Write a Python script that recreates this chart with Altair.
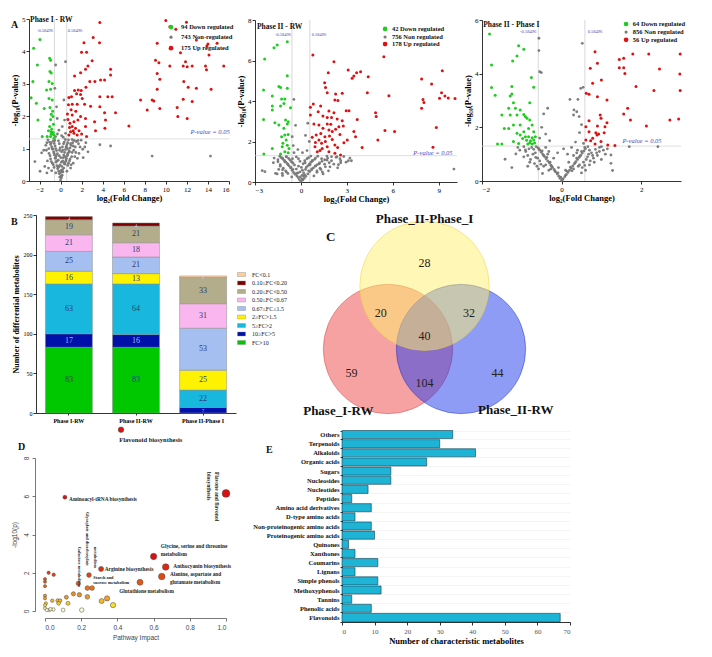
import altair as alt
import pandas as pd

W, H = 696, 641
SERIF = "Liberation Serif"
SANS = "Liberation Sans"

# ---------------- Panel A data (log2 FC, -log10 P) ----------------
A_cutoff = 0.58496
A_pcut = 1.30103

A1_counts = [94, 743, 175]
A1_green = [(-1.96,4.37),(-2.56,4.10),(-2.63,3.07),(-2.80,2.57),(-1.04,3.79),(-0.95,3.73),(-1.01,3.38),(-0.89,3.33),
            (-1.10,3.07),(-0.79,3.01),(-0.95,2.83),(-1.10,2.55),(-0.79,2.50),(-1.01,2.27),(-0.89,2.06),(-0.73,1.99),
            (-0.95,1.90),(-1.04,1.68),(-0.89,1.52),(-0.79,1.45),(-0.70,1.50),(-0.63,1.42),(-0.95,1.37),(-1.74,1.37),
            (-1.27,1.37),(-0.62,1.32),(-2.15,1.88),(-2.30,2.40),(-1.55,2.24),(-1.33,2.81),(-2.20,3.58),(-0.85,1.60),
            (-0.68,1.75),(-0.75,2.15),(-0.90,1.45),(-1.15,1.55)]
A1_red = [(3.73,4.89),(3.10,4.43),(2.22,4.27),(3.70,4.27),(1.99,3.97),(2.47,3.97),(3.00,3.71),(2.60,3.55),(2.37,3.45),
          (1.90,3.34),(1.33,3.24),(4.75,3.45),(4.75,3.27),(4.18,3.12),(3.80,3.12),(3.26,3.07),(2.78,3.07),(2.41,2.89),
          (1.68,2.81),(1.33,2.79),(1.96,2.79),(1.52,2.69),(1.90,2.67),(3.73,2.60),(4.49,2.60),(4.90,2.60),(1.04,2.60),
          (0.79,2.58),(2.06,2.55),(1.58,2.37),(1.11,2.37),(2.28,2.37),(2.85,2.31),(3.73,2.29),(5.22,2.11),(4.18,2.11),
          (0.65,2.07),(1.11,2.04),(1.90,1.99),(2.37,1.93),(1.27,1.83),(1.65,1.88),(0.89,1.78),(1.11,1.68),(1.42,1.63),
          (0.95,1.52),(1.27,1.47),(0.79,1.42),(1.58,1.42),(2.37,1.68),(2.47,1.37),(3.23,1.83),(3.32,1.55),(4.21,1.63),
          (4.27,1.88),(6.49,1.70),(7.60,2.50),(8.23,2.19),(8.70,2.50),(8.86,2.47),(9.43,2.24),(11.08,2.27),(11.14,1.99),
          (12.03,1.93),(11.65,2.52),(12.50,2.45),(9.18,2.83),(9.43,3.14),(9.18,3.32),(9.02,3.73),(9.34,3.65),(9.18,4.25),
          (10.00,4.95),(10.38,3.55),(10.38,4.76),(10.95,4.68),(11.39,3.96),(11.87,3.68),(12.03,3.53),(11.65,3.55),
          (12.50,3.55),(11.71,3.07),(12.12,2.89),(12.90,2.86),(11.96,4.90),(12.90,4.35),(14.00,4.23),(14.10,3.89),
          (14.87,4.25),(15.50,3.55),(13.77,3.55),(13.86,3.43),(14.30,2.83),(13.90,4.17),(0.70,1.90),(1.00,2.20),
          (1.20,1.55),(0.85,1.65),(1.75,1.55),(2.00,1.45),(0.75,2.35),(1.45,2.15)]
A1_gray = [(0.00,0.03),(0.08,0.10),(-0.08,0.12),(0.15,0.18),(-0.12,0.22),(0.22,0.28),(-0.18,0.30),(0.05,0.33),(-0.28,0.38),
           (0.30,0.40),(0.12,0.45),(-0.35,0.47),(0.40,0.52),(-0.05,0.50),(-0.42,0.58),(0.48,0.60),(0.20,0.62),(-0.22,0.64),
           (0.55,0.70),(-0.50,0.70),(0.02,0.72),(0.62,0.78),(-0.58,0.80),(0.30,0.80),(-0.30,0.84),(0.70,0.86),(-0.66,0.90),
           (0.10,0.90),(0.80,0.94),(-0.75,0.98),(0.45,0.97),(-0.45,1.00),(0.90,1.02),(-0.85,1.06),(0.18,1.05),(1.00,1.10),
           (-0.95,1.13),(0.60,1.12),(-0.60,1.16),(1.15,1.18),(-1.05,1.20),(0.35,1.20),(-0.20,1.24),(1.30,1.25),(-1.20,1.27),
           (0.75,1.27),(1.50,1.22),(1.70,1.15),(1.95,1.26),(-1.40,1.10),(1.25,0.95),(-1.10,0.85),(1.05,0.75),(-0.95,0.68),
           (0.85,0.62),(-0.78,0.55),(0.68,0.48),(-0.62,0.42),(1.45,0.88),(-1.25,0.62),(1.60,0.70),(2.10,0.98),(2.40,1.18),
           (-1.60,0.95),(0.95,0.40),(-0.85,0.32),(1.20,0.55),(-1.50,0.45),(2.60,0.90),(2.15,0.72),(-2.44,0.60),(-1.80,0.87),
           (-1.95,0.30),(-1.30,0.25),(3.73,1.12),(4.75,1.08),(8.70,0.77),(14.24,0.77),(-0.47,3.58),(0.47,3.68),(-0.54,2.86),
           (-0.38,2.29),(-0.32,1.93),(0.32,2.50),(0.38,1.88),(-0.16,1.57),(0.16,1.68),(-0.47,1.37),(0.47,1.47),(0.25,1.35),
           (-0.30,1.45),(0.10,1.40),(0.55,1.05),(-0.55,1.25),(0.40,0.75),(-0.40,0.78),(0.65,1.00),(1.10,1.28),(-0.10,0.95),
           (0.05,0.15),(-0.03,0.25),(0.18,0.35),(-0.22,0.42),(0.35,0.55),(-0.38,0.62),(0.08,0.58),(0.52,0.65),(-0.48,0.72),
           (0.25,0.72),(-0.12,0.78),(0.68,0.80),(-0.62,0.86),(0.38,0.88),(-0.38,0.94),(0.85,0.90),(-0.78,1.00),(0.20,0.95),
           (-0.05,1.02),(0.52,1.05),(-0.52,1.08),(0.95,1.15),(-0.88,1.18),(0.28,1.15),(-0.12,1.15),(1.20,1.08),(-1.12,1.00),
           (0.68,1.18),(-0.70,1.24),(1.40,1.05),(-1.30,1.18),(0.45,1.28),(1.65,1.25),(1.85,1.05),(-1.35,0.95),(1.10,0.88),
           (-1.00,0.78),(0.90,0.68),(-0.88,0.60),(0.75,0.55),(-0.70,0.50),(1.35,0.75),(1.75,0.85),(2.30,1.05),(-1.15,0.40),
           (0.60,0.30),(-0.45,0.25),(1.00,0.50),(0.12,0.30),(-0.15,0.45)]

A2_counts = [42, 756, 178]
A2_green = [(-0.89,6.93),(-1.55,6.77),(-1.76,6.63),(-2.37,6.07),(-0.89,5.25),(-2.44,4.54),(-1.44,4.71),(-1.33,4.67),
            (-0.89,4.63),(-1.87,4.25),(-1.26,4.10),(-1.05,4.10),(-1.87,3.75),(-1.33,3.75),(-1.11,3.88),(-0.68,3.67),
            (-1.87,3.56),(-2.44,3.09),(-1.70,2.93),(-1.44,2.81),(-1.00,3.06),(-0.83,2.98),(-0.89,2.86),(-1.11,2.65),
            (-0.83,2.35),(-1.05,2.32),(-1.26,2.24),(-0.96,2.07),(-1.18,1.91),(-0.89,1.81),(-0.78,1.66),(-1.22,1.74),
            (-1.05,1.50),(-0.83,1.45),(-1.87,1.66),(-2.42,1.38),(-1.33,1.38)]
A2_red = [(0.78,6.27),(2.16,5.94),(1.79,5.40),(3.09,5.53),(3.46,5.23),(3.64,5.40),(3.90,5.45),(4.40,5.20),(3.35,5.12),
          (1.55,4.90),(1.61,4.67),(1.72,4.41),(2.27,4.35),(2.70,4.38),(2.22,4.05),(2.42,4.02),(0.81,3.85),(1.29,3.75),
          (0.62,3.69),(1.13,3.47),(1.83,3.51),(2.16,3.42),(2.96,3.52),(3.14,3.52),(4.34,4.41),(5.42,6.19),(5.75,4.26),
          (4.88,3.42),(4.92,3.23),(3.68,3.09),(0.62,3.31),(1.44,3.26),(1.72,3.19),(2.00,3.19),(2.37,3.11),(2.70,3.03),
          (2.48,2.73),(2.77,2.77),(0.85,2.86),(1.18,2.81),(1.44,2.65),(1.72,2.86),(1.83,2.57),(2.05,2.49),(2.27,2.60),
          (1.87,2.27),(1.57,2.24),(1.00,2.32),(0.74,2.21),(1.18,2.07),(1.35,1.91),(0.92,1.74),(1.39,1.66),(1.72,1.74),
          (2.22,1.83),(1.07,1.50),(1.83,1.50),(2.22,1.42),(2.59,1.33),(2.81,1.94),(3.03,2.07),(3.46,2.49),(3.57,2.24),
          (4.00,1.70),(5.03,2.07),(5.49,2.54),(6.12,2.49),(7.89,5.09),(7.98,4.08),(8.04,3.92),(7.89,3.64),(8.54,4.84),
          (9.24,5.50),(9.06,4.13),(9.19,4.41),(9.41,4.25),(9.63,4.15),(10.07,4.12),(8.85,2.69),(8.63,1.71),(1.30,2.40),
          (1.60,2.00),(2.05,2.10),(0.95,1.95),(1.25,1.55),(2.40,1.70),(1.95,2.85),(2.55,2.35)]
A2_gray = [(0.00,0.03),(0.12,0.10),(-0.10,0.12),(0.22,0.18),(-0.18,0.22),(0.32,0.28),(-0.26,0.30),(0.08,0.33),(-0.38,0.38),
           (0.45,0.40),(0.18,0.45),(-0.48,0.47),(0.58,0.52),(-0.06,0.50),(-0.58,0.58),(0.70,0.60),(0.30,0.62),(-0.30,0.64),
           (0.82,0.70),(-0.68,0.70),(0.03,0.72),(0.95,0.78),(-0.78,0.80),(0.45,0.80),(-0.42,0.84),(1.08,0.86),(-0.88,0.90),
           (0.15,0.90),(1.22,0.94),(-0.98,0.98),(0.65,0.97),(-0.62,1.00),(1.38,1.02),(-1.08,1.06),(0.25,1.05),(1.55,1.10),
           (-1.18,1.13),(0.90,1.12),(-0.80,1.16),(1.75,1.18),(-1.28,1.20),(0.50,1.20),(-0.30,1.24),(2.00,1.25),(-1.38,1.27),
           (1.10,1.27),(2.30,1.22),(2.55,1.15),(2.80,1.26),(-1.50,1.10),(1.85,0.95),(-1.35,0.85),(1.60,0.75),(-1.15,0.68),
           (1.30,0.62),(-1.00,0.55),(1.05,0.48),(-0.85,0.42),(2.15,0.88),(-1.45,0.62),(2.40,0.70),(2.95,0.98),(3.20,1.18),
           (1.45,0.40),(-1.20,0.32),(1.80,0.55),(-2.53,0.56),(-2.35,0.51),(-1.66,0.43),(-1.22,0.43),(10.00,0.64),(3.30,1.05),
           (-0.46,4.08),(-0.57,2.24),(0.30,2.30),(-0.20,1.60),(0.40,1.55),(0.10,1.45),(-0.45,1.45),(0.55,2.00),(-0.35,2.80),
           (0.45,2.90),(-0.50,1.80),(0.75,1.05),(-0.55,1.15),(0.60,0.85),(1.70,1.28),(2.60,0.95),(-0.95,1.25),
           (0.07,0.15),(-0.04,0.25),(0.25,0.35),(-0.30,0.42),(0.50,0.55),(-0.52,0.62),(0.10,0.58),(0.72,0.65),(-0.65,0.72),
           (0.35,0.72),(-0.16,0.78),(0.95,0.80),(-0.85,0.86),(0.55,0.88),(-0.52,0.94),(1.20,0.90),(-1.05,1.00),(0.28,0.95),
           (-0.06,1.02),(0.75,1.05),(-0.70,1.08),(1.35,1.15),(-1.20,1.18),(0.40,1.15),(-0.16,1.15),(1.70,1.08),(-1.50,1.00),
           (0.95,1.18),(-0.95,1.24),(2.00,1.05),(-1.75,1.18),(0.65,1.28),(2.35,1.25),(2.60,1.05),(-1.80,0.95),(1.55,0.88),
           (-1.35,0.78),(1.25,0.68),(-1.20,0.60),(1.05,0.55),(-0.95,0.50),(1.90,0.75),(2.45,0.85),(3.10,1.05),(-1.55,0.40),
           (0.85,0.30),(-0.60,0.25),(1.40,0.50),(0.17,0.30),(-0.20,0.45)]

A3_counts = [64, 856, 56]
A3_green = [(-1.81,5.48),(-1.08,5.04),(-0.95,4.91),(-1.12,4.66),(-1.23,4.47),(-1.76,4.32),(-0.76,3.86),(-1.76,3.48),
            (-1.25,3.52),(-0.70,3.49),(-1.67,3.20),(-1.29,3.17),(-1.25,3.24),(-1.21,2.92),(-0.80,2.92),(-1.33,2.71),
            (-1.16,2.71),(-1.50,2.46),(-1.29,2.46),(-1.04,2.65),(-0.95,2.48),(-0.91,2.40),(-0.87,2.34),(-0.80,2.27),
            (-1.12,2.46),(-1.44,1.96),(-1.33,1.96),(-1.21,2.09),(-1.04,2.09),(-0.83,1.96),(-0.74,2.09),(-0.70,1.84),
            (-0.95,1.84),(-1.12,1.78),(-1.04,1.71),(-0.91,1.65),(-0.83,1.65),(-0.74,1.61),(-0.66,1.65),(-0.80,1.43),
            (-0.85,1.38),(-0.74,1.38),(-1.21,1.47),(-1.08,1.40),(-1.61,1.38),(-1.50,1.38),(-0.70,1.53),(-0.78,1.50),
            (-0.88,1.52),(-0.68,1.42),(-0.98,1.58)]
A3_red = [(0.84,4.82),(0.90,4.39),(0.72,4.20),(1.45,4.53),(1.56,4.57),(1.79,4.73),(2.19,4.73),(2.98,4.73),(2.46,4.17),
          (1.45,4.22),(1.56,4.22),(1.59,4.01),(1.00,3.76),(0.78,3.64),(1.87,3.52),(2.32,3.37),(2.97,3.99),(2.98,3.37),
          (0.62,3.27),(0.69,3.23),(0.90,3.14),(1.14,3.02),(1.66,2.71),(1.56,2.50),(0.97,2.46),(0.99,2.34),(0.69,2.25),
          (0.61,2.02),(1.09,2.02),(0.90,2.05),(1.14,2.17),(1.73,2.27),(2.13,2.05),(2.72,2.27),(2.94,2.31),(0.69,1.84),
          (0.86,1.80),(1.07,1.80),(0.78,1.59),(0.89,1.71),(0.93,1.75),(0.61,1.53),(0.73,1.50),(0.99,1.47),(1.16,1.34),
          (1.34,1.32),(0.84,1.38)]
A3_gray = [(0.00,0.02),(0.04,0.08),(-0.04,0.10),(0.08,0.16),(-0.07,0.18),(0.12,0.24),(-0.11,0.26),(0.16,0.32),(-0.15,0.34),
           (0.20,0.40),(-0.19,0.43),(0.24,0.48),(-0.23,0.51),(0.28,0.56),(-0.27,0.59),(0.32,0.64),(-0.31,0.67),(0.36,0.72),
           (-0.35,0.75),(0.40,0.80),(-0.39,0.83),(0.44,0.88),(-0.43,0.91),(0.48,0.96),(-0.47,0.99),(0.52,1.04),(-0.51,1.07),
           (0.56,1.12),(-0.55,1.15),(0.60,1.20),(-0.59,1.23),(0.66,1.28),(-0.64,1.28),(0.10,0.40),(-0.08,0.50),(0.18,0.70),
           (-0.20,0.85),(0.30,0.95),(-0.32,1.10),(0.40,1.15),(0.25,1.25),(-0.40,1.25),(0.05,1.20),(-0.10,1.05),(0.15,1.00),
           (0.30,0.45),(-0.32,0.40),(0.45,0.60),(-0.45,0.55),(0.55,0.70),(-0.55,0.75),(0.65,0.90),(-0.65,0.88),(0.75,1.05),
           (-0.72,1.00),(0.85,1.18),(-0.82,1.20),(0.95,1.25),(-0.90,1.10),(1.05,1.15),(0.70,0.60),(-0.68,0.65),(0.80,0.85),
           (-0.78,0.80),(0.60,0.40),(-0.58,0.45),(0.90,0.95),(-0.95,0.90),(1.10,1.00),(1.00,0.80),(-1.05,1.15),(0.50,0.30),
           (-0.48,0.28),(-1.42,0.81),(-1.15,1.01),(-0.91,1.16),(1.24,0.97),(1.24,0.66),(1.28,0.39),(2.42,1.28),(1.70,1.28),
           (-1.25,0.50),(-0.85,0.55),(-0.57,5.32),(-0.57,4.86),(-0.55,4.07),(-0.51,4.04),(-0.35,2.71),(0.52,5.13),(0.48,3.45),
           (0.54,3.49),(0.21,3.04),(0.41,3.04),(0.31,2.65),(0.38,2.58),(0.30,2.46),(0.44,2.40),(-0.45,2.50),(-0.50,2.00),
           (-0.40,1.75),(0.45,1.80),(0.50,2.10),(-0.30,1.50),(0.35,1.45),(-0.55,1.60),(0.55,1.40),
           (0.02,0.05),(-0.02,0.14),(0.10,0.22),(-0.09,0.30),(0.14,0.36),(-0.17,0.38),(0.22,0.52),(-0.25,0.55),(0.34,0.68),
           (-0.29,0.70),(0.38,0.85),(-0.37,0.88),(0.46,0.92),(-0.45,0.95),(0.50,1.10),(-0.49,1.12),(0.58,1.25),(-0.57,1.20),
           (0.70,1.15),(-0.70,1.18),(0.62,0.80),(-0.60,0.85),(0.78,0.95),(-0.75,1.25),(0.88,1.05),(-0.85,0.95),(0.52,0.50),
           (-0.52,0.62),(0.72,0.75),(-0.62,0.55),(0.95,1.10),(1.00,1.28),(-0.95,1.28),(0.68,1.00),(-0.66,1.05),(0.42,0.55),
           (-0.40,0.60),(0.26,0.38),(-0.27,0.45),(0.82,0.70),(-0.80,0.70),(1.15,1.20),(-1.10,1.25),(0.58,0.58),(0.38,1.05),
           (-0.35,1.00)]

# ---------------- Panel B data ----------------
B_phases = ["Phase I-RW", "Phase II-RW", "Phase II-Phase I"]
B_cats = ["FC<0.1", "0.10≤FC<0.20", "0.20≤FC<0.50", "0.50≤FC<0.67", "0.67≤FC≤1.5",
          "2≥FC>1.5", "5≥FC>2", "10≥FC>5", "FC>10"]
B_colors = ["#FFCC99", "#800000", "#B3AD8B", "#FAB6EE", "#A4BFF0", "#FFF200", "#18B8DE", "#0010A8", "#00C800"]
B_phase1 = [0, 4, 19, 21, 25, 16, 63, 17, 83]
B_phase2 = [0, 4, 21, 18, 21, 13, 64, 16, 83]
B_phase21 = [2, 0, 33, 31, 53, 25, 22, 7, 0]

# ---------------- Panel C data ----------------
C_sets = ["Phase_II-Phase_I", "Phase_I-RW", "Phase_II-RW"]
C_regions = ["II-I only", "I-RW & II-I", "II-RW & II-I", "all", "I-RW only", "I-RW & II-RW", "II-RW only"]
C_counts = [28, 20, 32, 40, 59, 104, 44]

# ---------------- Panel D data ----------------
D_impact = [0.42, 1.00, 0.11, 0.60, 0.667, 0.645, 0.525, 0.31, 0.243, 0.234, 0.26, 0.184, 0.02, 0.048, 0.0, 0.0,
            0.0, 0.0, 0.0, 0.005, 0.04, 0.07, 0.083, 0.118, 0.157, 0.19, 0.234, 0.313, 0.343, 0.376, 0.203, 0.10,
            0.075, 0.127, 0.046, 0.024, 0.0, 0.01, 0.0, 0.03]
D_logp = [9.48, 6.15, 5.95, 2.85, 2.30, 1.80, 1.50, 2.20, 1.88, 1.20, 1.20, 1.44, 2.00, 1.90, 1.67, 1.53,
          1.30, 0.80, 0.66, 0.40, 0.54, 0.54, 0.54, 0.72, 0.90, 0.85, 0.74, 0.52, 0.66, 0.31, 0.05, 0.05,
          0.40, 0.40, 0.08, 0.05, 0.14, 0.05, 0.30, 0.10]
D_labels = ["Flavonoid biosynthesis", "Aminoacyl-tRNA biosynthesis", "Glycine, serine and threonine", "metabolism",
            "Anthocyanin biosynthesis", "Alanine, aspartate and", "glutamate metabolism", "Glutathione metabolism",
            "Arginine biosynthesis", "Starch and", "sucrose metabolism"]
D_vlabels = ["Flavone and flavonol", "biosynthesis", "Galactose metabolism", "Glyoxylate and dicarboxylate", "metabolism"]

# ---------------- Panel E data ----------------
E_cats = ["Others", "Terpenoids", "Alkaloids", "Organic acids", "Sugars", "Nucleosides", "Nucleotides", "Peptides",
          "Amino acid derivatives", "D-type amino acids", "Non-proteinogenic amino acids", "Proteinogenic amino acids",
          "Quinones", "Xanthones", "Coumarins", "Lignans", "Simple phenols", "Methoxyphenols", "Tannins",
          "Phenolic acids", "Flavonoids"]
E_vals = [34, 30, 41, 26, 15, 15, 8, 3, 9, 4, 9, 10, 2, 4, 11, 4, 11, 12, 3, 9, 67]


# ================= helpers =================
def S(dom, r0, r1):
    return alt.Scale(domain=dom, range=[r0 - 8, r1 - 8], nice=False, zero=False)


def ax_bottom(y_img, **kw):
    base = dict(orient="bottom", offset=(y_img - 8) - H, grid=False, domainColor="#000", tickColor="#000",
                labelColor="#000", domainWidth=0.8, tickWidth=0.8, tickSize=3, labelPadding=1)
    base.update(kw)
    return alt.Axis(**base)


def ax_left(x_img, **kw):
    base = dict(orient="left", offset=-(x_img - 8), grid=False, domainColor="#000", tickColor="#000",
                labelColor="#000", domainWidth=0.8, tickWidth=0.8, tickSize=3, labelPadding=1)
    base.update(kw)
    return alt.Axis(**base)


def pts(pairs):
    return pd.DataFrame(pairs, columns=["x", "y"])


def tdf(rows):
    return pd.DataFrame(rows, columns=["t", "x", "y"])


def volcano(green, gray, red, counts, nonword, title, xdom, xr, ydom, yr, xticks, yticks, ann):
    X = alt.X("x:Q", scale=S(xdom, *xr),
              axis=ax_bottom(yr[0], values=xticks, title="log₂(Fold Change)", labelFont=SERIF, labelFontSize=7,
                             titleFont=SERIF, titleFontSize=8.5, titleFontWeight="bold", titlePadding=1))
    Y = alt.Y("y:Q", scale=S(ydom, *yr),
              axis=ax_left(xr[0], values=yticks, title="-log₁₀(P-value)", labelFont=SERIF, labelFontSize=7,
                           titleFont=SERIF, titleFontSize=8.5, titleFontWeight="bold", titlePadding=2))
    vl = pd.DataFrame({"x": [-A_cutoff, A_cutoff], "y": [ydom[0]] * 2, "y2": [ydom[1]] * 2})
    hl = pd.DataFrame({"x": [xdom[0]], "x2": [xdom[1]], "y": [A_pcut]})
    lx, ltx, lys = ann["legend"]
    layers = [
        alt.Chart(vl).mark_rule(color="#c8c8c8", strokeWidth=0.7).encode(x=X, y=Y, y2="y2:Q"),
        alt.Chart(hl).mark_rule(color="#d0d0d0", strokeWidth=0.7).encode(x=X, x2="x2:Q", y=Y),
        alt.Chart(pts(gray)).mark_circle(size=8, color="#777777", opacity=0.95).encode(x=X, y=Y),
        alt.Chart(pts(green)).mark_circle(size=9, color="#1fcc1f", opacity=1).encode(x=X, y=Y),
        alt.Chart(pts(red)).mark_circle(size=9, color="#dd1111", opacity=1).encode(x=X, y=Y),
        alt.Chart(pts([(lx, lys[0])])).mark_circle(size=22, color="#1fcc1f", opacity=1).encode(x=X, y=Y),
        alt.Chart(pts([(lx, lys[1])])).mark_circle(size=10, color="#7a7a7a", opacity=1).encode(x=X, y=Y),
        alt.Chart(pts([(lx, lys[2])])).mark_circle(size=22, color="#dd1111", opacity=1).encode(x=X, y=Y),
        alt.Chart(tdf([(f"{counts[0]} Down regulated", ltx, lys[0]),
                       (f"{counts[1]} {nonword}", ltx, lys[1]),
                       (f"{counts[2]} Up regulated", ltx, lys[2])])).mark_text(
            align="left", baseline="middle", font=SERIF, fontSize=6.5, fontWeight="bold", color="#111"
        ).encode(x=X, y=Y, text="t:N"),
        alt.Chart(tdf([(title, ann["title"][0], ann["title"][1])])).mark_text(
            align="left", baseline="middle", font=SERIF, fontSize=7.5, fontWeight="bold", color="#111"
        ).encode(x=X, y=Y, text="t:N"),
        alt.Chart(tdf([("-0.58496", ann["cuts"][0][0], ann["cuts"][0][1]),
                       ("0.58496", ann["cuts"][1][0], ann["cuts"][1][1])])).mark_text(
            align="center", baseline="middle", font=SERIF, fontSize=4.5, color="#4a4ab8"
        ).encode(x=X, y=Y, text="t:N"),
        alt.Chart(tdf([("P-value = 0.05", ann["p"][0], ann["p"][1])])).mark_text(
            align="center", baseline="middle", font=SERIF, fontSize=6.5, fontStyle="italic", color="#4a4ab8"
        ).encode(x=X, y=Y, text="t:N"),
    ]
    return alt.layer(*layers)


# ================= Panel A =================
A1 = volcano(A1_green, A1_gray, A1_red, A1_counts, "Non-regulated", "Phase I - RW",
             [-3, 16], (29, 229), [0, 5], (181, 19), list(range(-2, 17, 2)), [0, 1, 2, 3, 4, 5],
             {"legend": (10.49, 11.44, [4.75, 4.44, 4.10]), "title": (-2.9, 4.98),
              "cuts": [(-1.48, 4.63), (1.37, 4.63)], "p": (14.2, 1.51)})
A2 = volcano(A2_green, A2_gray, A2_red, A2_counts, "Non regulated", "Phase II - RW",
             [-3, 10.2], (255, 457), [0, 8], (182, 20), [-3, 0, 3, 6, 9], [0, 2, 4, 6, 8],
             {"legend": (5.5, 5.95, [7.56, 7.16, 6.81]), "title": (-2.87, 7.65),
              "cuts": [(-1.17, 7.26), (1.18, 7.26)], "p": (8.63, 1.43)})
A3 = volcano(A3_green, A3_gray, A3_red, A3_counts, "Non regulated", "Phase II - Phase I",
             [-2, 3], (482, 681), [0, 6], (181, 20), [-2, 0, 2], [0, 2, 4, 6],
             {"legend": (1.62, 1.79, [5.85, 5.55, 5.26]), "title": (-1.97, 5.81),
              "cuts": [(-0.84, 5.55), (0.84, 5.55)], "p": (2.02, 1.49)})

# ================= Panel B =================
rows = []
for ph, vals in zip(B_phases, [B_phase1, B_phase2, B_phase21]):
    cum = 0
    for i in reversed(range(len(B_cats))):
        v = vals[i]
        if v > 0:
            rows.append({"phase": ph, "cat": B_cats[i], "v": v, "k": len(B_cats) - 1 - i,
                         "mid": cum + v / 2.0, "lab": str(v)})
        cum += v
bdf = pd.DataFrame(rows)
BX = alt.X("phase:N", scale=alt.Scale(domain=B_phases, range=[36 - 8, 236 - 8], paddingInner=0.3, paddingOuter=0.14),
           axis=ax_bottom(413, title=None, labelFont=SERIF, labelFontSize=6, labelFontWeight="bold", labelAngle=0,
                          labelPadding=2, tickSize=2))
BYaxis = ax_left(36, values=[0, 50, 100, 150, 200, 250], title="Number of differential metabolites", labelFont=SERIF,
                 labelFontSize=6, titleFont=SERIF, titleFontSize=8, titleFontWeight="bold", titlePadding=3)
BYscale = S([0, 250], 413, 215)
B_bars = alt.Chart(bdf).mark_bar(stroke="#8c8c8c", strokeWidth=0.5).encode(
    x=BX,
    y=alt.Y("v:Q", stack="zero", scale=BYscale, axis=BYaxis),
    color=alt.Color("cat:N", scale=alt.Scale(domain=B_cats, range=B_colors),
                    legend=alt.Legend(orient="none", legendX=237 - 8, legendY=270 - 8, title=None,
                                      labelFont=SERIF, labelFontSize=6, labelColor="#222",
                                      symbolType="M-1,-0.5H1V0.5H-1Z", symbolSize=64, symbolStrokeColor="#888",
                                      symbolStrokeWidth=0.4, symbolOpacity=1, rowPadding=0.5, labelOffset=6,
                                      padding=0, offset=0)),
    order=alt.Order("k:Q", sort="ascending"),
)
big = bdf[bdf["v"] >= 8]
small = bdf[bdf["v"] < 8]
B_text_dark = alt.Chart(big[~big["cat"].isin(["10≥FC>5"])]).mark_text(
    font=SERIF, fontSize=8, color="#2e3a74", baseline="middle").encode(
    x=BX, y=alt.Y("mid:Q", scale=BYscale, axis=BYaxis), text="lab:N")
B_text_light = alt.Chart(big[big["cat"].isin(["10≥FC>5"])]).mark_text(
    font=SERIF, fontSize=8, color="#a9b4ff", baseline="middle").encode(
    x=BX, y=alt.Y("mid:Q", scale=BYscale, axis=BYaxis), text="lab:N")
B_text_small = alt.Chart(small).mark_text(
    font=SERIF, fontSize=5, color="#d8dcff", baseline="middle").encode(
    x=BX, y=alt.Y("mid:Q", scale=BYscale, axis=BYaxis), text="lab:N")
B = alt.layer(B_bars, B_text_dark, B_text_light, B_text_small)

# ================= Panel C (Venn) =================
CX = alt.X("x:Q", scale=alt.Scale(domain=[-1.5, 1.5], range=[307, 526], nice=False, zero=False), axis=None)
CY = alt.Y("y:Q", scale=alt.Scale(domain=[-1.5, 2.0], range=[450.5, 195], nice=False, zero=False), axis=None)
circ_size = 3.14159 * 73 * 73
C_layers = []
for (cx, cy), fill, stroke in [((-0.5, 0.0), "#EF4545", "#d04040"),
                               ((0.5, 0.0), "#1D39EB", "#2030c0"),
                               ((0.0, 0.866), "#FFEF6B", "#e8d040")]:
    C_layers.append(alt.Chart(pts([(cx, cy)])).mark_circle(
        size=circ_size, color=fill, fillOpacity=0.5, opacity=1, stroke=stroke, strokeWidth=0.8, strokeOpacity=0.6
    ).encode(x=CX, y=CY))
C_num_pos = [(0.0, 1.18), (-0.6, 0.49), (0.61, 0.49), (0.0, 0.18), (-1.0, -0.33), (0.0, -0.47), (1.0, -0.33)]
C_layers.append(alt.Chart(tdf([(str(c), p[0], p[1]) for c, p in zip(C_counts, C_num_pos)])).mark_text(
    font=SERIF, fontSize=12, color="#222", baseline="middle").encode(x=CX, y=CY, text="t:N"))
C_title_pos = [(0.0, 1.78), (-1.18, -0.85), (1.25, -0.84)]
C_layers.append(alt.Chart(tdf([(s, p[0], p[1]) for s, p in zip(C_sets, C_title_pos)])).mark_text(
    font=SERIF, fontSize=13, fontWeight="bold", color="#111", baseline="middle").encode(x=CX, y=CY, text="t:N"))
C = alt.layer(*C_layers)

# ================= Panel D =================
DX = alt.X("x:Q", scale=S([0, 1], 45, 226),
           axis=ax_bottom(618, values=[0, 0.2, 0.4, 0.6, 0.8, 1.0], format=".1f", title="Pathway Impact",
                          labelFont=SANS, labelFontSize=6.5, labelColor="#444", titleFont=SANS, titleFontSize=6.5,
                          titleFontWeight="normal", titleColor="#444", titlePadding=4, labelPadding=3,
                          domainColor="#555", tickColor="#555"))
DY = alt.Y("y:Q", scale=S([0, 8], 611, 458),
           axis=ax_left(35, values=[0, 2, 4, 6, 8], title="-log10(p)", labelFont=SANS, labelFontSize=6.5,
                        labelColor="#444", labelAngle=-90, titleFont=SANS, titleFontSize=6.5,
                        titleFontWeight="normal", titleColor="#444", titlePadding=6, labelPadding=3,
                        domainColor="#555", tickColor="#555"))
ddf = pd.DataFrame({"x": D_impact, "y": D_logp})
D_pts = alt.Chart(ddf).mark_circle(stroke="#4a4a4a", strokeWidth=0.5, opacity=1).encode(
    x=DX, y=DY,
    color=alt.Color("y:Q", scale=alt.Scale(domain=[0, 0.3, 0.7, 1.5, 2.5],
                                          range=["#FFFFF2", "#F5DE2E", "#EE9B2E", "#DD5A1A", "#DA1111"],
                                          clamp=True), legend=None),
    size=alt.Size("x:Q", scale=alt.Scale(domain=[0, 1], range=[10, 60]), legend=None),
)
D_hpos = [(0.41, 8.92), (0.133, 5.84), (0.64, 3.39), (0.64, 3.0), (0.709, 2.37), (0.69, 1.91), (0.69, 1.53),
          (0.41, 1.06), (0.33, 2.2), (0.267, 1.74), (0.267, 1.44)]
D_vpos = [(0.952, 7.27), (0.908, 7.27), (0.19, 3.36), (0.234, 5.18), (0.276, 3.36)]
hl_df = tdf([(t, p[0], p[1]) for t, p in zip(D_labels, D_hpos)])
D_text_big = alt.Chart(hl_df.iloc[:1]).mark_text(align="left", baseline="middle", font=SERIF, fontSize=6.5,
                                                 fontWeight="bold", color="#222").encode(x=DX, y=DY, text="t:N")
D_text_h = alt.Chart(hl_df.iloc[1:9]).mark_text(align="left", baseline="middle", font=SERIF, fontSize=5.3,
                                                fontWeight="bold", color="#222").encode(x=DX, y=DY, text="t:N")
D_text_s = alt.Chart(hl_df.iloc[9:]).mark_text(align="left", baseline="middle", font=SERIF, fontSize=4.3,
                                               fontWeight="bold", color="#222").encode(x=DX, y=DY, text="t:N")
vl_df = tdf([(t, p[0], p[1]) for t, p in zip(D_vlabels, D_vpos)])
D_text_v1 = alt.Chart(vl_df.iloc[:2]).mark_text(align="left", baseline="middle", angle=90, font=SERIF,
                                                fontSize=5.5, fontWeight="bold", color="#222").encode(
    x=DX, y=DY, text="t:N")
D_text_v2 = alt.Chart(vl_df.iloc[2:]).mark_text(align="left", baseline="middle", angle=90, font=SERIF,
                                                fontSize=4.3, fontWeight="bold", color="#222").encode(
    x=DX, y=DY, text="t:N")
D = alt.layer(D_pts, D_text_big, D_text_h, D_text_s, D_text_v1, D_text_v2)

# ================= Panel E =================
edf = pd.DataFrame({"c": E_cats, "v": E_vals})
E_bars = alt.Chart(edf).mark_bar(color="#1DB4D6", stroke="#1b3b4b", strokeWidth=0.6).encode(
    x=alt.X("v:Q", scale=S([0, 70], 342, 570),
            axis=ax_bottom(622, values=list(range(0, 71, 10)), title="Number of characteristic metabolites",
                           labelFont=SERIF, labelFontSize=7, labelColor="#555", titleFont=SERIF, titleFontSize=8.5,
                           titleFontWeight="bold", titlePadding=2, labelPadding=2)),
    y=alt.Y("c:N", scale=alt.Scale(domain=E_cats, range=[430.5 - 8, 621.5 - 8], paddingInner=0.12, paddingOuter=0),
            axis=ax_left(342, title=None, labelFont=SERIF, labelFontSize=6.5, labelFontWeight="bold",
                         labelColor="#111", tickSize=2, grid=True, gridColor="#ececec", gridWidth=0.6,
                         tickBand="extent", labelPadding=1)),
)
E = alt.layer(E_bars)


# ================= panel letters =================
def letter(t, x_img, y_img, size):
    return alt.Chart(pd.DataFrame({"t": [t]})).mark_text(
        font=SERIF, fontSize=size, fontWeight="bold", color="#111", baseline="middle", align="left"
    ).encode(x=alt.value(x_img - 8), y=alt.value(y_img - 8), text="t:N")


letters = [letter("A", 11, 25, 10), letter("B", 11, 222, 10), letter("C", 326, 237, 13),
           letter("D", 18, 447, 10), letter("E", 266, 450, 10)]

chart = alt.layer(A1, A2, A3, B, C, D, E, *letters).resolve_scale(
    x="independent", y="independent", color="independent", size="independent"
).properties(
    width=W, height=H, padding=0, autosize=alt.AutoSizeParams(type="none")
).configure_view(stroke=None)

chart.save("out.html", embed_options={"renderer": "svg", "actions": False})
